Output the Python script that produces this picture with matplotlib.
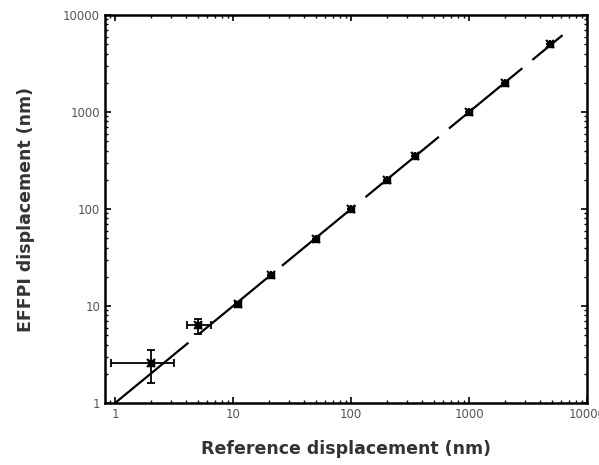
import matplotlib
matplotlib.use("Agg")
import matplotlib.pyplot as plt
import numpy as np

ref = [2.02, 5.07, 11.0, 21.0, 50.0, 100.0, 200.0, 350.0, 1000.0, 2000.0, 4900.0]
effpi = [2.59, 6.4, 10.5, 21.0, 49.5, 100.0, 198.0, 355.0, 1000.0, 2000.0, 5000.0]
x_lo = [1.10, 1.0, 0.6, 0, 0, 0, 0, 0, 0, 0, 0]
x_hi = [1.15, 1.45, 0.6, 0, 0, 0, 0, 0, 0, 0, 0]
y_lo = [0.98, 1.2, 0.3, 0, 0, 0, 0, 0, 0, 0, 0]
y_hi = [0.94, 1.0, 0.3, 0, 0, 0, 0, 0, 0, 0, 0]
fit_x = [1.0, 6200.0]

fig = plt.figure(figsize=(5.99, 4.65), dpi=100)
ax = fig.add_axes([0.1753, 0.1333, 0.8047, 0.8344])

lw = 1.6
ax.plot(fit_x, fit_x, color="black", lw=lw, linestyle=(0, (68.4 / lw, 9.4 / lw)), zorder=2)
ax.errorbar(ref, effpi, xerr=[x_lo, x_hi], yerr=[y_lo, y_hi], fmt="s", color="black",
            ms=5, ecolor="black", elinewidth=1.3, capsize=3, capthick=1.3, zorder=3)
ax.plot(ref, effpi, "x", color="black", ms=6, mew=1.5, zorder=4)

ax.set_xscale("log")
ax.set_yscale("log")
ax.set_xlim(0.822, 10000)
ax.set_ylim(1, 10000)
ax.set_xticks([1, 10, 100, 1000, 10000])
ax.set_xticklabels(["1", "10", "100", "1000", "10000"])
ax.set_yticks([1, 10, 100, 1000, 10000])
ax.set_yticklabels(["1", "10", "100", "1000", "10000"])

for s in ax.spines.values():
    s.set_linewidth(1.8)
ax.tick_params(which="both", direction="in", top=True, right=True,
               labelsize=8.5, labelcolor="#555555")
ax.tick_params(which="major", length=4, width=1.2)
ax.tick_params(which="minor", length=2.5, width=1.0)

ax.set_xlabel("Reference displacement (nm)", fontsize=12.5, fontweight="bold",
              color="#333333", labelpad=14)
ax.set_ylabel("EFFPI displacement (nm)", fontsize=12.5, fontweight="bold",
              color="#333333", labelpad=20)

fig.savefig("out.png", dpi=100)
